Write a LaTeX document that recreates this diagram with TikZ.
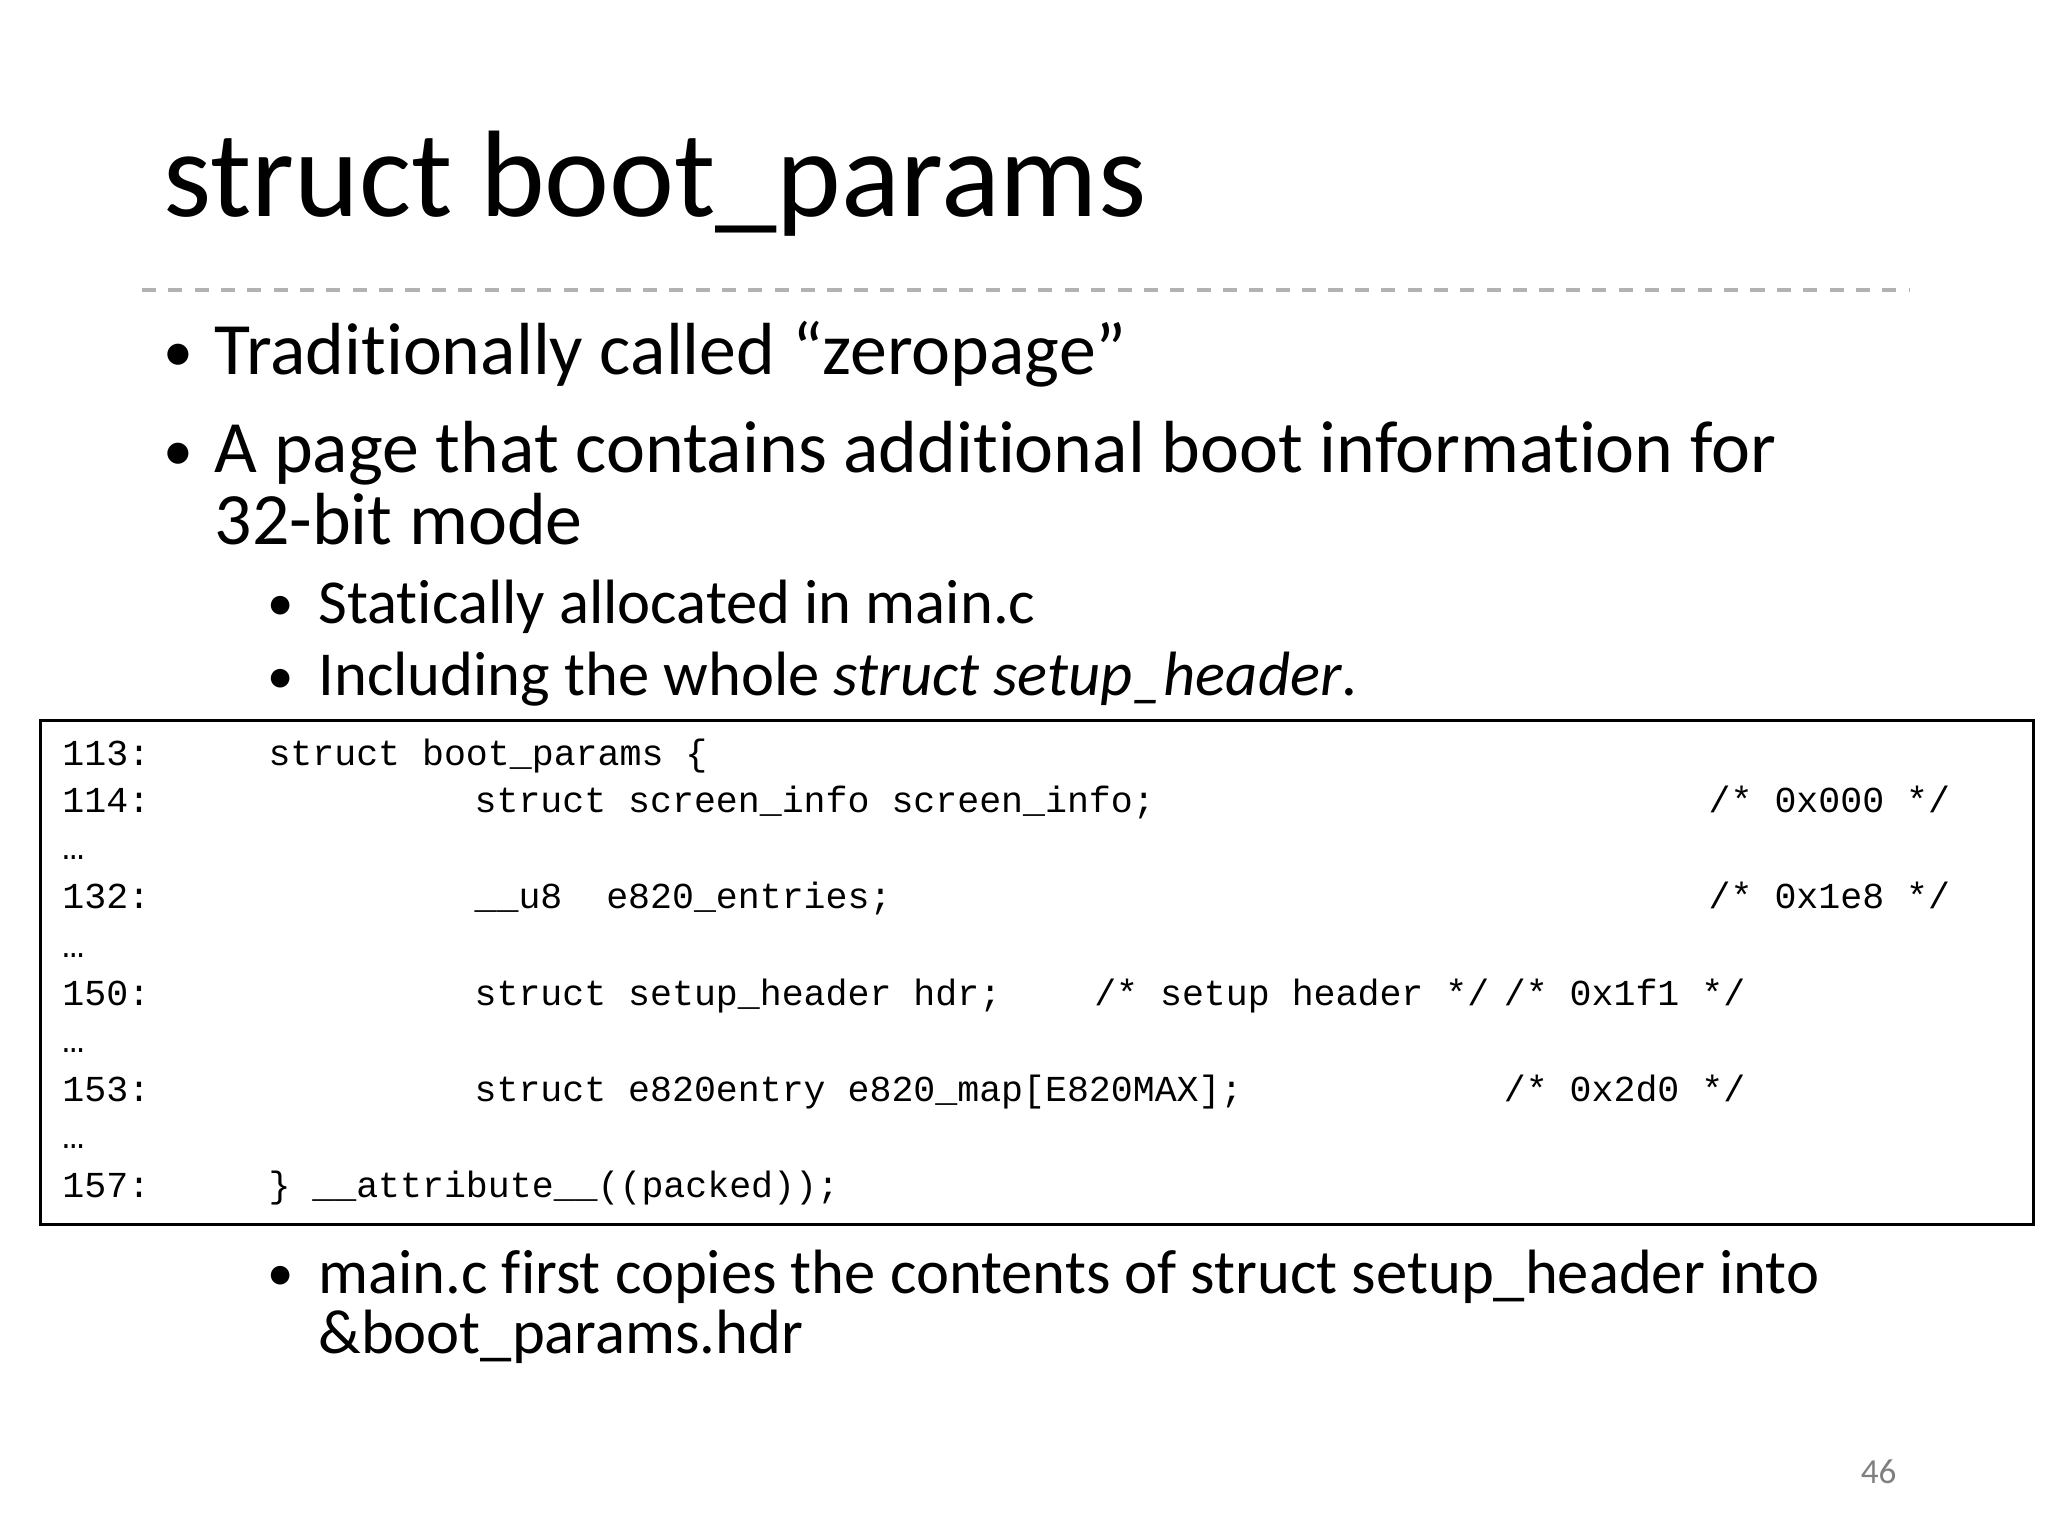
\documentclass[tikz,border=0pt]{standalone}
\usepackage{fontspec}
\setmainfont{Carlito}[Ligatures=NoCommon]
\newfontfamily\codefont{Liberation Mono}
\begin{document}
\begin{tikzpicture}[x=0.01313cm,y=-0.01313cm,
  title/.style={anchor=base west,inner sep=0,font=\fontsize{35}{40}\selectfont},
  body/.style={anchor=base west,inner sep=0,font=\fontsize{21}{24}\selectfont},
  sub/.style={anchor=base west,inner sep=0,font=\fontsize{17.8}{22}\selectfont},
  code/.style={anchor=base west,inner sep=0,font=\codefont\fontsize{10.4}{12}\selectfont}]
\useasboundingbox (0,0) rectangle (1560,1170);
\node[title] (t) at (124,165) {struct boot\_params};
\draw[gray!60,line width=1.2pt,dash pattern=on 4pt off 3.5pt] (108,221) -- (1455,221);
\node[body,font=\fontsize{17}{20}\selectfont] (b1) at (124,283) {•};
\node[body] (t1) at (163,285) {Traditionally called “zeropage”};
\node[body,font=\fontsize{17}{20}\selectfont] (b2) at (124,358) {•};
\node[body] (t2) at (163,360) {A page that contains additional boot information for};
\node[body] (t2b) at (163,415) {32-bit mode};
\node[sub,font=\fontsize{15}{18}\selectfont] (b3) at (203,473) {•};
\node[sub] (t3) at (242,475) {Statically allocated in main.c};
\node[sub,font=\fontsize{15}{18}\selectfont] (b4) at (203,528) {•};
\node[sub] (t4) at (242,530) {Including the whole \textit{struct setup\_header}.};
\draw[line width=0.9pt] (31,549) rectangle (1549,933);
\foreach \y/\n in {583/113:,619/114:,692/132:,766/150:,839/153:,912/157:}
  \node[code] at (47,\y) {\n};
\foreach \y in {655,729,802,875}
  \node[code] at (47,\y) {…};
\node[code] (c1) at (204,583) {struct boot\_params \{};
\node[code] (c2) at (361,619) {struct screen\_info screen\_info;};
\node[code] (c2c) at (1301,619) {/* 0x000 */};
\node[code] (c3) at (361,692) {\_\_u8\ \ e820\_entries;};
\node[code] (c3c) at (1301,692) {/* 0x1e8 */};
\node[code] (c4) at (361,766) {struct setup\_header hdr;};
\node[code] (c4b) at (833,766) {/* setup header */};
\node[code] (c4c) at (1145,766) {/* 0x1f1 */};
\node[code] (c5) at (361,839) {struct e820entry e820\_map[E820MAX];};
\node[code] (c5c) at (1145,839) {/* 0x2d0 */};
\node[code] (c6) at (204,912) {\} \_\_attribute\_\_((packed));};
\node[sub,font=\fontsize{15}{18}\selectfont] (b5) at (203,983) {•};
\node[sub] (t5) at (242,985) {main.c first copies the contents of struct setup\_header into};
\node[sub] (t5b) at (242,1031) {\&boot\_params.hdr};
\node[anchor=base,inner sep=0,text=gray,font=\fontsize{10}{12}\selectfont] (pg) at (1431,1130) {46};
\end{tikzpicture}
\end{document}
